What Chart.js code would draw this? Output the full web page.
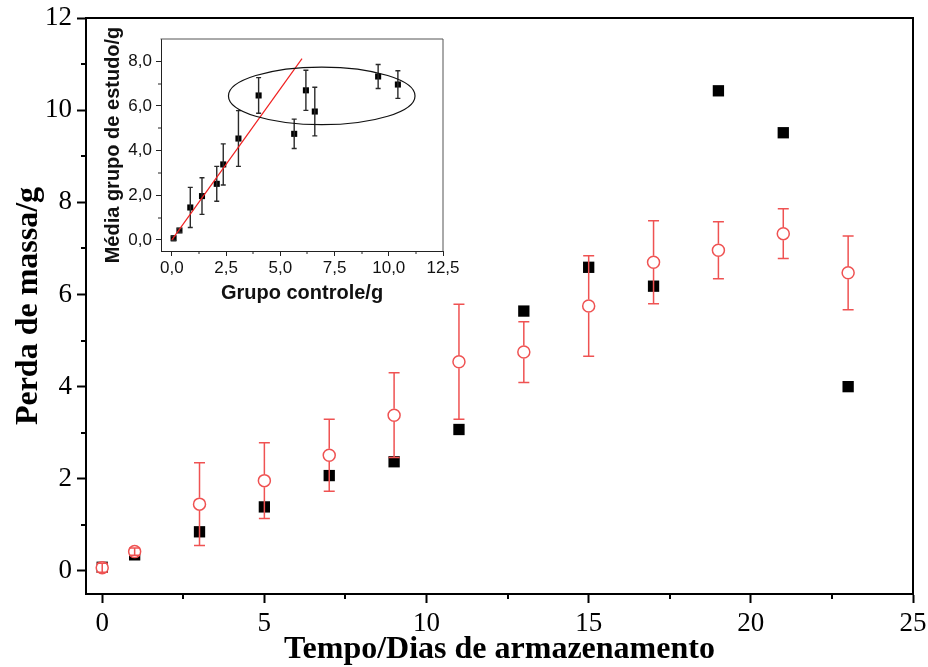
<!DOCTYPE html>
<html>
<head>
<meta charset="utf-8">
<script src="https://cdn.jsdelivr.net/npm/chart.js@4.4.0/dist/chart.umd.min.js"></script>
<style>
  html, body { margin: 0; padding: 0; background: #fff; }
  #wrap { position: relative; width: 928px; height: 667px; }
  #main { position: absolute; left: 0; top: 0; }
  #inset { position: absolute; left: 95px; top: 20px; }
</style>
</head>
<body>
<div id="wrap">
  <canvas id="main" width="928" height="667"></canvas>
  <canvas id="inset" width="380" height="290"></canvas>
</div>
<script>
// storage days and mass loss (g)
const days = [0, 1, 3, 5, 7, 9, 11, 13, 15, 17, 19, 21, 23];
const controlLoss = [0.08, 0.35, 0.85, 1.39, 2.07, 2.37, 3.07, 5.64, 6.59, 6.18, 10.42, 9.51, 4.0];
const studyMean = [0.07, 0.42, 1.45, 1.96, 2.51, 3.38, 4.54, 4.75, 5.75, 6.70, 6.96, 7.32, 6.47];
const studyErr = [0.10, 0.08, 0.90, 0.82, 0.78, 0.92, 1.25, 0.66, 1.09, 0.90, 0.62, 0.54, 0.80];

// axis ticks
const xTicks = [0, 5, 10, 15, 20, 25];
const xMinor = [2.5, 7.5, 12.5, 17.5, 22.5];
const yTicks = [0, 2, 4, 6, 8, 10, 12];
const yMinor = [1, 3, 5, 7, 9, 11];

// inset: study mean vs control, linear fit and highlighted cluster
const insetXTicks = [0, 2.5, 5, 7.5, 10, 12.5];
const insetXMinor = [1.25, 3.75, 6.25, 8.75, 11.25];
const insetYTicks = [0, 2, 4, 6, 8];
const insetYMinor = [1, 3, 5, 7];
const fitX = [0, 6];
const fitY = [0, 8.12];
const clusterCenter = [6.91, 6.45];
const clusterRadius = [4.3, 1.29];

const RED = '#ef5252';

// top/right frame + short minor ticks
const framePlugin = {
  id: 'frame',
  afterDraw(chart, args, opts) {
    const { ctx, chartArea: a, scales: { x, y } } = chart;
    ctx.save();
    ctx.strokeStyle = opts.color;
    ctx.lineWidth = opts.width;
    ctx.beginPath();
    ctx.moveTo(a.left - opts.width / 2, a.top);
    ctx.lineTo(a.right, a.top);
    ctx.lineTo(a.right, a.bottom + opts.width / 2);
    ctx.stroke();

    ctx.lineWidth = opts.tickWidth;
    ctx.strokeStyle = opts.tickColor;
    ctx.beginPath();
    opts.xMinor.forEach(v => {
      const px = Math.round(x.getPixelForValue(v));
      ctx.moveTo(px, a.bottom);
      ctx.lineTo(px, a.bottom + opts.minorLen);
    });
    opts.yMinor.forEach(v => {
      const py = Math.round(y.getPixelForValue(v));
      ctx.moveTo(a.left, py);
      ctx.lineTo(a.left - opts.minorLen, py);
    });
    ctx.stroke();
    ctx.restore();
  }
};

// vertical error bars with caps; leaves a gap where an open marker sits
const errorBarPlugin = {
  id: 'errorBars',
  afterDatasetDraw(chart, args) {
    const ds = chart.data.datasets[args.index];
    if (!ds.errors) return;
    const meta = args.meta;
    const yScale = chart.scales[meta.yAxisID];
    const ctx = chart.ctx;
    const hw = ds.capWidth / 2;
    const gap = ds.errorGap || 0;
    ctx.save();
    ctx.strokeStyle = ds.errorColor;
    ctx.lineWidth = ds.errorWidth;
    ctx.beginPath();
    meta.data.forEach((pt, i) => {
      const v = ds.data[i].y, e = ds.errors[i];
      const cx = pt.x, cy = pt.y;
      const top = yScale.getPixelForValue(v + e);
      const bot = yScale.getPixelForValue(v - e);
      if (cy - top > gap) {
        ctx.moveTo(cx, cy - gap); ctx.lineTo(cx, top);
        ctx.moveTo(cx, cy + gap); ctx.lineTo(cx, bot);
      } else {
        ctx.moveTo(cx, top); ctx.lineTo(cx, bot);
      }
      ctx.moveTo(cx - hw, top); ctx.lineTo(cx + hw, top);
      ctx.moveTo(cx - hw, bot); ctx.lineTo(cx + hw, bot);
    });
    ctx.stroke();
    ctx.restore();
  }
};

const ellipsePlugin = {
  id: 'cluster',
  afterDatasetsDraw(chart) {
    const { ctx, scales: { x, y } } = chart;
    const cx = x.getPixelForValue(clusterCenter[0]);
    const cy = y.getPixelForValue(clusterCenter[1]);
    const rx = x.getPixelForValue(clusterCenter[0] + clusterRadius[0]) - cx;
    const ry = cy - y.getPixelForValue(clusterCenter[1] + clusterRadius[1]);
    ctx.save();
    ctx.strokeStyle = '#111';
    ctx.lineWidth = 1.2;
    ctx.beginPath();
    ctx.ellipse(cx, cy, rx, ry, 0, 0, Math.PI * 2);
    ctx.stroke();
    ctx.restore();
  }
};

// fixed axis box sizes; labels may hang past the plot edges
const fixHeight = h => s => { s.height = h; s.paddingLeft = 0; s.paddingRight = 0; };
const fixWidth = w => s => { s.width = w; s.paddingTop = 0; s.paddingBottom = 0; };

const serif = 'Liberation Serif, Times New Roman, serif';
const sans = 'Liberation Sans, Arial, sans-serif';

new Chart(document.getElementById('main'), {
  type: 'scatter',
  data: {
    datasets: [
      {
        label: 'Controle',
        data: days.map((d, i) => ({ x: d, y: controlLoss[i] })),
        pointStyle: 'rect',
        pointRadius: 8,
        backgroundColor: '#000',
        borderWidth: 0,
        order: 2
      },
      {
        label: 'Estudo',
        data: days.map((d, i) => ({ x: d, y: studyMean[i] })),
        pointStyle: 'circle',
        pointRadius: 6,
        backgroundColor: '#fff',
        borderColor: RED,
        borderWidth: 1.5,
        errors: studyErr,
        errorColor: RED,
        errorWidth: 1.5,
        capWidth: 11,
        errorGap: 6.5,
        order: 1
      }
    ]
  },
  options: {
    responsive: false,
    animation: false,
    events: [],
    layout: { padding: { top: 18, right: 15, left: 0, bottom: 0 } },
    plugins: {
      legend: { display: false },
      tooltip: { enabled: false },
      frame: { color: '#000', width: 2, tickColor: '#000', tickWidth: 2, minorLen: 5, xMinor: xMinor, yMinor: yMinor }
    },
    scales: {
      x: {
        type: 'linear', min: -0.5, max: 25,
        afterBuildTicks: s => { s.ticks = xTicks.map(v => ({ value: v })); },
        afterFit: fixHeight(73),
        border: { color: '#000', width: 2 },
        grid: { drawOnChartArea: false, tickLength: 9, tickWidth: 2, tickColor: '#000' },
        ticks: { font: { family: serif, size: 27 }, color: '#000', padding: 5, maxRotation: 0 },
        title: {
          display: true, text: 'Tempo/Dias de armazenamento', color: '#000',
          font: { family: serif, size: 32, weight: 'bold' }, padding: { top: 0, bottom: -2 }
        }
      },
      y: {
        type: 'linear', min: -0.5, max: 12,
        afterBuildTicks: s => { s.ticks = yTicks.map(v => ({ value: v })); },
        afterFit: fixWidth(86),
        border: { color: '#000', width: 2 },
        grid: { drawOnChartArea: false, tickLength: 9, tickWidth: 2, tickColor: '#000' },
        ticks: { font: { family: serif, size: 27 }, color: '#000', padding: 5 },
        title: {
          display: true, text: 'Perda de massa/g', color: '#000',
          font: { family: serif, size: 32, weight: 'bold' }, padding: { top: 10, bottom: 0 }
        }
      }
    }
  },
  plugins: [framePlugin, errorBarPlugin]
});

const commaFmt = v => v.toFixed(1).replace('.', ',');

new Chart(document.getElementById('inset'), {
  type: 'scatter',
  data: {
    datasets: [
      {
        label: 'Ajuste',
        data: fitX.map((v, i) => ({ x: v, y: fitY[i] })),
        showLine: true,
        borderColor: '#f02020',
        borderWidth: 1.2,
        pointRadius: 0,
        order: 1
      },
      {
        label: 'Média',
        data: controlLoss.map((v, i) => ({ x: v, y: studyMean[i] })),
        pointStyle: 'rect',
        pointRadius: 4.3,
        backgroundColor: '#000',
        borderWidth: 0,
        errors: studyErr,
        errorColor: '#2a2a2a',
        errorWidth: 1.4,
        capWidth: 5,
        order: 2
      }
    ]
  },
  options: {
    responsive: false,
    animation: false,
    events: [],
    layout: { padding: { top: 19, right: 32, left: 0, bottom: 0 } },
    plugins: {
      legend: { display: false },
      tooltip: { enabled: false },
      frame: { color: '#555', width: 1, tickColor: '#222', tickWidth: 1, minorLen: 3, xMinor: insetXMinor, yMinor: insetYMinor }
    },
    scales: {
      x: {
        type: 'linear', min: -0.5, max: 12.5,
        afterBuildTicks: s => { s.ticks = insetXTicks.map(v => ({ value: v })); },
        afterFit: fixHeight(59),
        border: { color: '#222', width: 1 },
        grid: { drawOnChartArea: false, tickLength: 5, tickWidth: 1, tickColor: '#222' },
        ticks: { font: { family: sans, size: 17 }, color: '#111', padding: 2, maxRotation: 0, callback: commaFmt },
        title: {
          display: true, text: 'Grupo controle/g', color: '#111',
          font: { family: sans, size: 20, weight: 'bold' }, padding: { top: 0, bottom: 5 }
        }
      },
      y: {
        type: 'linear', min: -0.5, max: 9,
        afterBuildTicks: s => { s.ticks = insetYTicks.map(v => ({ value: v })); },
        afterFit: fixWidth(66),
        border: { color: '#222', width: 1 },
        grid: { drawOnChartArea: false, tickLength: 5, tickWidth: 1, tickColor: '#222' },
        ticks: { font: { family: sans, size: 17 }, color: '#111', padding: 4, callback: commaFmt },
        title: {
          display: true, text: 'Média grupo de estudo/g', color: '#111',
          font: { family: sans, size: 20, weight: 'bold' }, padding: { top: 6, bottom: 0 }
        }
      }
    }
  },
  plugins: [framePlugin, errorBarPlugin, ellipsePlugin]
});
</script>
</body>
</html>
